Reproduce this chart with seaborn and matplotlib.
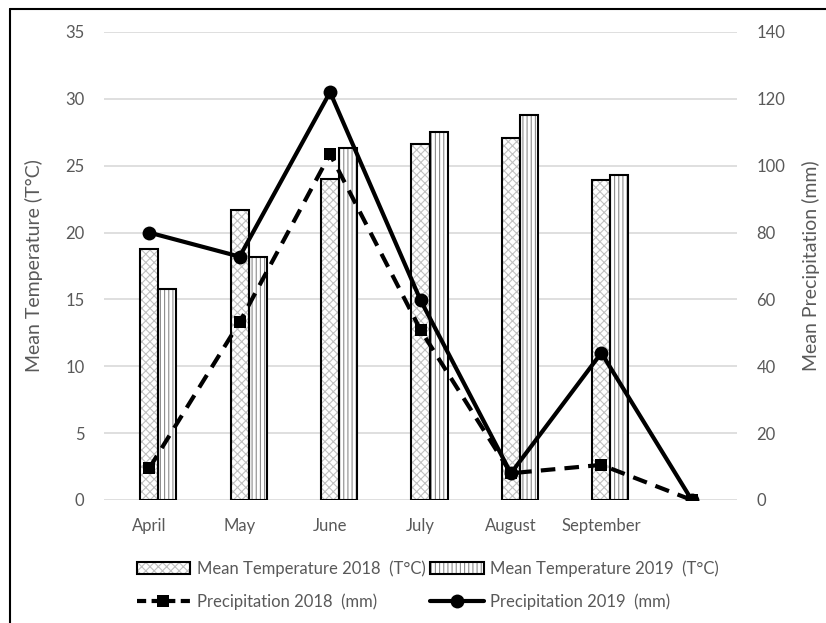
import matplotlib
matplotlib.use("Agg")
import matplotlib.pyplot as plt
import matplotlib.lines as mlines
import matplotlib.patches as mpatches
from matplotlib.legend_handler import HandlerTuple
import seaborn as sns
import pandas as pd
import numpy as np

# ---- data ----
months = ["April", "May", "June", "July", "August", "September", ""]
temp_2018 = [18.8, 21.7, 24.0, 26.6, 27.1, 23.9]
temp_2019 = [15.8, 18.2, 26.3, 27.5, 28.8, 24.3]
precip_2018 = [9.5, 53.2, 103.5, 50.9, 8.0, 10.5, 0.0]
precip_2019 = [80.0, 72.8, 122.0, 59.8, 8.0, 44.0, 0.0]

sns.set_theme(style="white")
plt.rcParams["font.family"] = ["Lato", "DejaVu Sans"]
plt.rcParams["hatch.linewidth"] = 0.8

TXT = "#595959"
GRID = "#d9d9d9"
H18 = "#c0c0c0"
H19 = "#8c8c8c"

fig = plt.figure(figsize=(8.26, 6.23), dpi=100)
ax = fig.add_axes([104 / 826, 1 - 500 / 623, (737 - 104) / 826, (500 - 32) / 623])
ax2 = ax.twinx()

pos = np.arange(len(temp_2018))
bw = 0.2
df18 = pd.DataFrame({"x": pos.astype(float), "t": temp_2018})
df19 = pd.DataFrame({"x": pos + bw, "t": temp_2019})

# hatched fills (grey hatch), then black outlines on top
sns.barplot(data=df18, x="x", y="t", native_scale=True, width=bw, ax=ax,
            color="white", edgecolor=H18, linewidth=0, hatch="xxxx",
            errorbar=None, zorder=2)
sns.barplot(data=df19, x="x", y="t", native_scale=True, width=bw, ax=ax,
            color="white", edgecolor=H19, linewidth=0, hatch="||||",
            errorbar=None, zorder=2)
sns.barplot(data=df18, x="x", y="t", native_scale=True, width=bw, ax=ax,
            fill=False, edgecolor="black", linewidth=1.5, errorbar=None, zorder=3)
sns.barplot(data=df19, x="x", y="t", native_scale=True, width=bw, ax=ax,
            fill=False, edgecolor="black", linewidth=1.5, errorbar=None, zorder=3)

ax.set_xlim(-0.5, 6.5)
ax.set_ylim(0, 35)
ax.set_yticks(np.arange(0, 36, 5))
ax.set_xticks(np.arange(len(months)))
ax.set_xticklabels(months)
ax.grid(axis="y", color=GRID, linewidth=1.2, zorder=0)
ax.set_axisbelow(True)
ax.set_xlabel("")
ax.set_ylabel("Mean Temperature (T°C)", color=TXT, fontsize=14, labelpad=16)
ax.tick_params(axis="both", length=0, colors=TXT, labelsize=12)
ax.tick_params(axis="y", pad=14)
ax.tick_params(axis="x", pad=13)
for s in ax.spines.values():
    s.set_visible(False)

# precipitation lines
dfp = pd.DataFrame({"x": np.arange(len(months)), "p18": precip_2018, "p19": precip_2019})
sns.lineplot(data=dfp, x="x", y="p18", ax=ax2, color="black", linewidth=3,
             dashes=False, marker="s", markersize=9, markeredgewidth=0, zorder=5)
sns.lineplot(data=dfp, x="x", y="p19", ax=ax2, color="black", linewidth=3,
             marker="o", markersize=10, markeredgewidth=0, zorder=6)
ax2.lines[0].set_dashes((3.5, 2.2))
ax2.set_ylim(0, 140)
ax2.set_yticks(np.arange(0, 141, 20))
ax2.set_xlim(-0.5, 6.5)
ax2.set_xlabel("")
ax2.set_ylabel("Mean Precipitation (mm)", color=TXT, fontsize=14, labelpad=12)
ax2.tick_params(axis="y", length=0, colors=TXT, labelsize=12, pad=14)
ax2.grid(False)
for s in ax2.spines.values():
    s.set_visible(False)

# legend
h18 = (mpatches.Patch(facecolor="white", edgecolor=H18, hatch="xxxx", linewidth=0),
       mpatches.Patch(facecolor="none", edgecolor="black", linewidth=1.5))
h19 = (mpatches.Patch(facecolor="white", edgecolor=H19, hatch="||||", linewidth=0),
       mpatches.Patch(facecolor="none", edgecolor="black", linewidth=1.5))
l18 = mlines.Line2D([], [], color="black", linewidth=3, dashes=(2.2, 1.3),
                    marker="s", markersize=9, markeredgewidth=0)
l19 = mlines.Line2D([], [], color="black", linewidth=3, marker="o", markersize=10,
                    markeredgewidth=0)
leg = fig.legend([h18, l18, h19, l19],
                 ["Mean Temperature 2018  (T°C)", "Precipitation 2018  (mm)",
                  "Mean Temperature 2019  (T°C)", "Precipitation 2019  (mm)"],
                 handler_map={tuple: HandlerTuple(ndivide=1, pad=0)},
                 ncol=2, loc="center", bbox_to_anchor=(0.518, 1 - 585 / 623),
                 frameon=False, fontsize=12, handlelength=3.2, handleheight=0.8,
                 handletextpad=0.4, columnspacing=0.3, labelspacing=1.0,
                 labelcolor=TXT)

# figure frame lines (top and left)
fig.add_artist(mlines.Line2D([10 / 826, 10 / 826], [0, 1 - 9 / 623], color="black",
                             linewidth=1.5, transform=fig.transFigure))
fig.add_artist(mlines.Line2D([10 / 826, 1], [1 - 9 / 623, 1 - 9 / 623], color="black",
                             linewidth=1.5, transform=fig.transFigure))

fig.savefig("out.png", dpi=100)
